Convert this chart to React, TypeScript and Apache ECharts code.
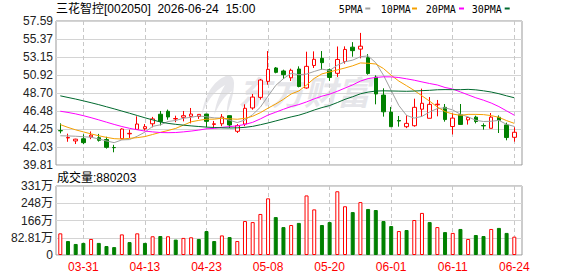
import React, { useEffect, useRef } from 'react';
import * as echarts from 'echarts';

const dates = [
  '03-26','03-27','03-30','03-31','04-01','04-02','04-03','04-07','04-08','04-09',
  '04-10','04-13','04-14','04-15','04-16','04-17','04-20','04-21','04-22','04-23',
  '04-24','04-27','04-28','04-29','04-30','05-06','05-07','05-08','05-11','05-12',
  '05-13','05-14','05-15','05-18','05-19','05-20','05-21','05-22','05-25','05-26',
  '05-27','05-28','05-29','06-01','06-02','06-03','06-04','06-05','06-08','06-09',
  '06-10','06-11','06-12','06-15','06-16','06-17','06-18','06-22','06-23','06-24',
];

// [open, close, low, high]
const ohlc = [
  [44.06, 44.03, 43.72, 44.95], [43.15, 43.20, 42.68, 43.68], [42.78, 43.00, 42.40, 43.05],
  [43.05, 42.57, 42.38, 43.60], [43.28, 43.50, 43.00, 43.95], [43.18, 42.86, 42.70, 43.65],
  [42.95, 41.99, 41.83, 43.30], [41.97, 41.95, 41.38, 42.30], [43.06, 44.25, 43.00, 44.33],
  [43.66, 43.72, 43.14, 44.17], [44.21, 44.87, 44.15, 45.82], [44.29, 44.54, 44.05, 44.87],
  [44.90, 45.50, 44.46, 45.75], [46.08, 45.18, 44.70, 46.48], [46.44, 45.74, 45.40, 46.65],
  [45.50, 45.55, 45.10, 45.90], [45.70, 45.90, 45.20, 46.48], [45.82, 46.10, 44.95, 46.85],
  [45.80, 46.06, 45.50, 46.08], [46.10, 45.20, 44.50, 46.12], [44.82, 44.90, 44.38, 45.25],
  [44.90, 45.74, 44.60, 46.10], [45.90, 44.75, 44.38, 45.92], [43.97, 44.67, 43.76, 44.87],
  [44.87, 46.81, 44.60, 47.30], [46.85, 48.20, 46.64, 48.58], [48.16, 50.30, 47.88, 50.43],
  [50.14, 51.62, 49.73, 53.88], [51.79, 51.25, 51.13, 51.90], [51.42, 50.96, 50.43, 51.58],
  [50.58, 51.50, 50.18, 51.70], [51.66, 49.50, 49.40, 51.99], [49.32, 51.99, 49.24, 53.80],
  [52.10, 52.86, 51.79, 53.84], [52.98, 52.45, 51.58, 53.88], [51.58, 50.62, 50.20, 51.72],
  [51.13, 52.84, 50.68, 54.44], [52.59, 54.08, 52.32, 54.46], [54.36, 53.93, 53.18, 54.98],
  [54.12, 54.48, 52.98, 56.12], [53.06, 51.10, 50.96, 53.50], [50.66, 48.58, 47.30, 50.88],
  [48.44, 46.38, 45.78, 49.28], [46.34, 44.54, 44.54, 46.98], [45.30, 45.24, 44.54, 45.86],
  [44.54, 44.95, 44.36, 45.94], [44.66, 46.93, 44.54, 48.00], [46.70, 47.43, 45.77, 49.24],
  [45.58, 47.30, 45.58, 48.20], [47.25, 47.32, 45.82, 47.84], [46.93, 45.42, 45.16, 47.34],
  [44.56, 45.60, 43.58, 46.19], [46.00, 44.82, 44.80, 47.34], [45.38, 45.68, 44.80, 45.74],
  [45.72, 45.18, 44.95, 45.90], [44.68, 44.64, 44.17, 44.95], [44.34, 45.72, 44.34, 46.23],
  [45.70, 45.33, 43.76, 45.94], [44.76, 43.20, 42.86, 45.04], [43.23, 43.85, 42.69, 44.46],
];

const ma5 = [
  43.42, 43.40, 43.36, 43.30, 43.24, 43.02, 42.78, 42.57, 42.91, 42.95,
  43.36, 43.87, 44.58, 44.77, 45.18, 45.31, 45.58, 45.70, 45.87, 45.76,
  45.63, 45.60, 45.33, 45.05, 45.37, 46.03, 46.95, 48.32, 49.64, 50.47,
  51.13, 50.96, 51.04, 51.36, 51.65, 51.47, 52.13, 52.55, 52.76, 53.18,
  53.28, 52.43, 50.89, 49.01, 47.15, 45.93, 45.60, 45.81, 46.36, 46.78,
  46.87, 46.61, 46.08, 45.75, 45.33, 45.18, 45.21, 45.32, 44.83, 44.57,
];
const ma10 = [
  44.80, 44.45, 44.15, 43.90, 43.65, 43.42, 43.22, 43.06, 43.02, 43.10,
  43.19, 43.32, 43.58, 43.84, 44.07, 44.33, 44.73, 45.14, 45.32, 45.47,
  45.47, 45.59, 45.51, 45.46, 45.57, 45.83, 46.27, 46.83, 47.34, 47.92,
  48.58, 48.95, 49.68, 50.50, 51.06, 51.30, 51.55, 51.79, 52.06, 52.41,
  52.37, 52.28, 51.72, 50.89, 50.17, 49.60, 49.01, 48.35, 47.69, 46.97,
  46.40, 46.10, 45.94, 46.06, 46.06, 46.03, 45.91, 45.70, 45.29, 44.95,
];
const ma20 = [
  46.45, 46.30, 46.12, 45.90, 45.65, 45.38, 45.10, 44.82, 44.56, 44.34,
  44.16, 44.00, 43.90, 43.82, 43.80, 43.82, 43.90, 44.00, 44.12, 44.28,
  44.33, 44.46, 44.55, 44.65, 44.82, 45.08, 45.50, 45.98, 46.33, 46.69,
  47.03, 47.27, 47.60, 47.98, 48.31, 48.56, 48.91, 49.31, 49.70, 50.17,
  50.48, 50.62, 50.70, 50.69, 50.61, 50.45, 50.28, 50.07, 49.87, 49.69,
  49.38, 49.19, 48.83, 48.47, 48.11, 47.81, 47.46, 47.02, 46.49, 45.96,
];
const ma30 = [
  48.35, 48.15, 47.95, 47.73, 47.50, 47.26, 47.00, 46.74, 46.47, 46.20,
  45.92, 45.64, 45.38, 45.12, 44.95, 44.83, 44.73, 44.64, 44.56, 44.49,
  44.44, 44.40, 44.38, 44.40, 44.46, 44.58, 44.78, 45.00, 45.25, 45.50,
  45.75, 45.96, 46.26, 46.60, 46.90, 47.15, 47.52, 47.92, 48.24, 48.60,
  48.81, 48.94, 48.97, 48.95, 48.93, 48.91, 48.94, 48.99, 49.03, 49.10,
  49.12, 49.11, 49.11, 49.15, 49.09, 48.97, 48.82, 48.61, 48.35, 48.11,
];

// volume in 万 (10k)
const volumes = [
  104, 67, 53, 58, 77, 58, 43, 38, 99, 62,
  104, 58, 90, 91, 90, 74, 82, 85, 77, 115,
  67, 94, 86, 67, 163, 158, 197, 272, 182, 134,
  144, 154, 286, 219, 144, 158, 306, 234, 206, 254,
  221, 216, 163, 139, 115, 120, 168, 202, 158, 134,
  110, 106, 125, 77, 96, 91, 125, 130, 106, 88.0203,
];
// 1 = red (up), 0 = green (down)
const volUp = [
  1, 0, 0, 0, 1, 0, 0, 0, 1, 0,
  1, 0, 1, 0, 1, 0, 1, 1, 0, 0,
  0, 1, 0, 1, 1, 1, 1, 1, 0, 0,
  1, 0, 1, 1, 0, 0, 1, 1, 0, 1,
  0, 0, 0, 0, 1, 0, 1, 1, 0, 1,
  0, 1, 0, 1, 0, 0, 1, 0, 0, 1,
];

const priceTicks = ['39.81', '42.03', '44.25', '46.48', '48.70', '50.92', '53.15', '55.37', '57.59'];
const volTicks = ['0', '82.81万', '166万', '248万', '331万'];
const priceMin = 39.81;
const priceMax = 57.59;
const volMax = 331.24;

const legendItems = [
  { name: '5PMA', color: '#a0a0a0' },
  { name: '10PMA', color: '#f5a000' },
  { name: '20PMA', color: '#ff00ff' },
  { name: '30PMA', color: '#00692e' },
];

const titleText = '三花智控[002050]  2026-06-24  15:00';
const volTitle = '成交量:880203';

const LOGO_PATH =
  'M34 0 C20 4 8 16 4 40 C10 26 18 16 30 10 C26 16 20 26 18 40 C24 28 30 20 38 16 C34 22 32 30 32 40 C36 28 40 20 40 8 C40 4 38 1 34 0 Z';

export default function App() {
  const ref = useRef<HTMLDivElement>(null);

  useEffect(() => {
    if (!ref.current) return;
    try {
      echarts.graphic.registerShape('logoMark', echarts.graphic.extendPath(LOGO_PATH, {}));
    } catch (e) {
      /* already registered */
    }
    const chart = echarts.init(ref.current, null, { renderer: 'svg' });
    const font = '"Liberation Sans", Arial, "Noto Sans CJK SC", sans-serif';
    const isLabel = (idx: number) => idx % 8 === 3;

    const legendX = [338.7, 380.7, 425.7, 471.7];
    const dashX = [365.3, 412, 459, 504.7];

    const graphics: any[] = [
      {
        type: 'text',
        x: 56,
        y: 8.5,
        silent: true,
        style: { text: titleText, font: `12px ${font}`, fill: '#000', verticalAlign: 'middle' },
      },
      {
        type: 'text',
        x: 57,
        y: 177.5,
        silent: true,
        style: { text: volTitle, font: `12px ${font}`, fill: '#000', verticalAlign: 'middle' },
      },
      {
        type: 'logoMark',
        x: 198,
        y: 75,
        scaleX: 0.9,
        scaleY: 1.0,
        silent: true,
        z: -10,
        style: { fill: '#e6e6ea' },
      },
      {
        type: 'text',
        x: 238,
        y: 91,
        silent: true,
        z: -10,
        style: {
          text: '东方财富',
          font: `bold italic 33px "Noto Sans CJK SC", sans-serif`,
          fill: '#e6e6ea',
          verticalAlign: 'middle',
        },
      },
    ];
    legendItems.forEach((it, i) => {
      graphics.push({
        type: 'text',
        x: legendX[i],
        y: 9,
        silent: true,
        style: { text: it.name, font: `10px "DejaVu Sans Mono", monospace`, fill: '#000', verticalAlign: 'middle' },
      });
      graphics.push({
        type: 'rect',
        silent: true,
        shape: { x: dashX[i], y: 7.5, width: 5, height: 2 },
        style: { fill: it.color },
      });
    });

    const axisLabelStyle = { fontSize: 12, fontFamily: font, color: '#222', margin: 3 };

    const option: any = {
      animation: false,
      backgroundColor: '#fff',
      graphic: graphics,
      grid: [
        { left: 56, top: 21, width: 466, height: 144, show: true, borderColor: '#999', borderWidth: 1, backgroundColor: 'transparent' },
        { left: 60.3, top: 21, width: 454, height: 144 },
        { left: 56, top: 186, width: 466, height: 69, show: true, borderColor: '#999', borderWidth: 1, backgroundColor: 'transparent' },
        { left: 60.3, top: 186, width: 454, height: 69 },
      ],
      xAxis: [
        { gridIndex: 0, type: 'value', min: 0, max: 1, show: false },
        {
          gridIndex: 1,
          type: 'category',
          data: dates,
          boundaryGap: false,
          axisLine: { show: false },
          axisTick: { show: false },
          axisLabel: { show: false },
          splitLine: { show: true, interval: (i: number) => isLabel(i), lineStyle: { color: '#c8c8c8', type: [4, 3], width: 1 } },
        },
        { gridIndex: 2, type: 'value', min: 0, max: 1, show: false },
        {
          gridIndex: 3,
          type: 'category',
          data: dates,
          boundaryGap: false,
          axisLine: { show: false },
          axisTick: { show: false },
          axisLabel: {
            show: true,
            interval: (i: number) => isLabel(i),
            color: '#ff0000',
            fontSize: 12,
            fontFamily: font,
            margin: 6,
          },
          splitLine: { show: true, interval: (i: number) => isLabel(i), lineStyle: { color: '#c8c8c8', type: [4, 3], width: 1 } },
        },
      ],
      yAxis: [
        {
          gridIndex: 0,
          type: 'value',
          min: 0,
          max: 8,
          interval: 1,
          axisLine: { show: false },
          axisTick: { show: false },
          axisLabel: { ...axisLabelStyle, showMinLabel: true, showMaxLabel: true, formatter: (v: number) => priceTicks[Math.round(v)] },
          splitLine: { show: true, lineStyle: { color: '#d4d4d4', width: 1 } },
        },
        { gridIndex: 1, type: 'value', min: priceMin, max: priceMax, show: false, splitLine: { show: false } },
        {
          gridIndex: 2,
          type: 'value',
          min: 0,
          max: 4,
          interval: 1,
          axisLine: { show: false },
          axisTick: { show: false },
          axisLabel: { ...axisLabelStyle, showMinLabel: true, showMaxLabel: true, formatter: (v: number) => volTicks[Math.round(v)] },
          splitLine: { show: true, lineStyle: { color: '#d4d4d4', width: 1 } },
        },
        { gridIndex: 3, type: 'value', min: 0, max: volMax, show: false, splitLine: { show: false } },
      ],
      series: [
        {
          type: 'candlestick',
          xAxisIndex: 1,
          yAxisIndex: 1,
          data: ohlc,
          barWidth: 4,
          clip: false,
          z: 3,
          itemStyle: {
            color: '#ffffff',
            color0: '#008000',
            borderColor: '#ff0000',
            borderColor0: '#008000',
            borderWidth: 1,
          },
        },
        ...[ma5, ma10, ma20, ma30].map((d, i) => ({
          type: 'line',
          name: legendItems[i].name,
          xAxisIndex: 1,
          yAxisIndex: 1,
          data: d,
          symbol: 'none',
          showSymbol: false,
          z: 4,
          lineStyle: { color: legendItems[i].color, width: 1 },
        })),
        {
          type: 'bar',
          xAxisIndex: 3,
          yAxisIndex: 3,
          barWidth: 4,
          clip: false,
          data: volumes.map((v, i) => ({
            value: v,
            itemStyle: volUp[i]
              ? { color: '#ffffff', borderColor: '#ff0000', borderWidth: 1 }
              : { color: '#008000', borderColor: '#008000', borderWidth: 1 },
          })),
        },
      ],
    };
    chart.setOption(option);
    return () => chart.dispose();
  }, []);

  return (
    <div
      ref={ref}
      style={{ position: 'fixed', left: 0, top: 0, width: 578, height: 276, background: '#fff' }}
    />
  );
}
